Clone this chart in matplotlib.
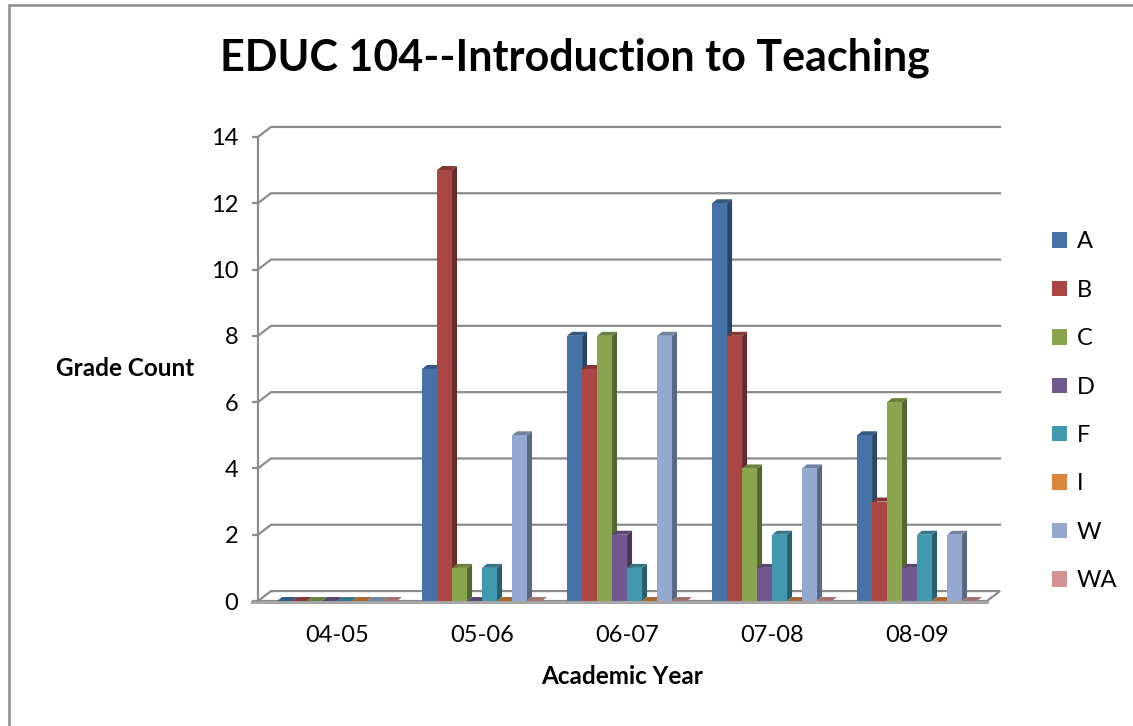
import matplotlib
matplotlib.use("Agg")
import matplotlib.pyplot as plt
from matplotlib.patches import Polygon, Patch, Rectangle
from matplotlib.colors import to_rgb

YEARS = ["04-05", "05-06", "06-07", "07-08", "08-09"]
GRADES = ["A", "B", "C", "D", "F", "I", "W", "WA"]
COUNTS = {
    "A": [0, 7, 8, 12, 5],
    "B": [0, 13, 7, 8, 3],
    "C": [0, 1, 8, 4, 6],
    "D": [0, 0, 2, 1, 1],
    "F": [0, 1, 1, 2, 2],
    "I": [0, 0, 0, 0, 0],
    "W": [0, 5, 8, 4, 2],
    "WA": [0, 0, 0, 0, 0],
}
COLORS = ["#4572A7", "#AA4643", "#89A54E", "#71588F",
          "#4198AF", "#DB843D", "#93A9CF", "#D19392"]
Y_TICKS = [0, 2, 4, 6, 8, 10, 12, 14]

FONT = ["Lato", "DejaVu Sans"]
GRID = "#8C8C8C"


def shade(c, f):
    r, g, b = to_rgb(c)
    return (r * f, g * f, b * f)


fig = plt.figure(figsize=(11.33, 7.26), dpi=100)
plt.rcParams["font.family"] = FONT

ax = fig.add_axes([258 / 1133, 125 / 726, 742 / 1133, 14.5 * 33.15 / 726])
xl, xr = -0.545, 4.572
ax.set_xlim(xl, xr)
ax.set_ylim(0, 14.5)
for s in ["top", "right", "bottom"]:
    ax.spines[s].set_visible(False)
ax.spines["left"].set_bounds(0, 14)
ax.spines["left"].set_color(GRID)
ax.spines["left"].set_linewidth(1.6)

# wall depth in data units
dxw, dyw = 0.0897, 0.30
# bar depth
dxb, dyb = 0.0345, 0.12
w = 0.1034

# back-wall gridlines
for v in Y_TICKS[1:]:
    ax.plot([xl, xl + dxw, xr], [v, v + dyw, v + dyw], color=GRID, lw=1.6,
            clip_on=False, zorder=1, solid_joinstyle="miter")

# floor slab
xfr = xr - dxw
floor = Polygon([(xl, 0), (xfr, 0), (xr, dyw), (xl + dxw, dyw)], closed=True,
                facecolor="white", edgecolor=GRID, lw=1.6, clip_on=False, zorder=2)
ax.add_patch(floor)
ax.plot([xl - 0.04, xfr], [-0.04, -0.04], color="#A6A6A6", lw=2.2, clip_on=False, zorder=2)

# 3D-looking bars
for i in range(len(YEARS)):
    for j, g in enumerate(GRADES):
        v = COUNTS[g][i]
        c = COLORS[j]
        x0 = i - 4 * w + j * w
        x1 = x0 + w
        side = Polygon([(x1, 0), (x1 + dxb, dyb), (x1 + dxb, v + dyb), (x1, v)],
                       closed=True, facecolor=shade(c, 0.62), edgecolor="none",
                       clip_on=False, zorder=3)
        top = Polygon([(x0, v), (x1, v), (x1 + dxb, v + dyb), (x0 + dxb, v + dyb)],
                      closed=True, facecolor=shade(c, 0.78), edgecolor="none",
                      clip_on=False, zorder=3)
        ax.add_patch(side)
        ax.add_patch(top)
        if v > 0:
            ax.bar(x0, v, width=w, align="edge", color=c, edgecolor="none",
                   zorder=3, clip_on=False)

ax.set_xticks(range(len(YEARS)))
ax.set_xticklabels(YEARS, fontsize=17)
ax.tick_params(axis="x", length=0, pad=17)
ax.set_yticks(Y_TICKS)
ax.set_yticklabels([str(t) for t in Y_TICKS], fontsize=17)
ax.tick_params(axis="y", length=4.3, width=1.6, color=GRID, pad=10)

fig.text(575 / 1133, 1 - 58 / 726, "EDUC 104--Introduction to Teaching",
         ha="center", va="center", fontsize=31, fontweight="bold")
fig.text(125 / 1133, 1 - 369 / 726, "Grade Count", ha="center", va="center",
         fontsize=17.5, fontweight="bold")
fig.text(622 / 1133, 1 - 677 / 726, "Academic Year", ha="center", va="center",
         fontsize=17.5, fontweight="bold")

handles = [Patch(facecolor=c, edgecolor="none", label=g) for g, c in zip(GRADES, COLORS)]
fig.legend(handles=handles, loc="upper left", bbox_to_anchor=(1043 / 1133, 1 - 222 / 726),
           frameon=False, fontsize=17, labelspacing=1.16, handlelength=0.62,
           handleheight=0.62, handletextpad=0.4, borderaxespad=0)

fig.patches.append(Rectangle((9 / 1133, -0.1), 1.2, 1 - 5 / 726 + 0.1,
                             transform=fig.transFigure, fill=False,
                             edgecolor="#8C8C8C", lw=1.8))

fig.savefig("out.png", dpi=100)
